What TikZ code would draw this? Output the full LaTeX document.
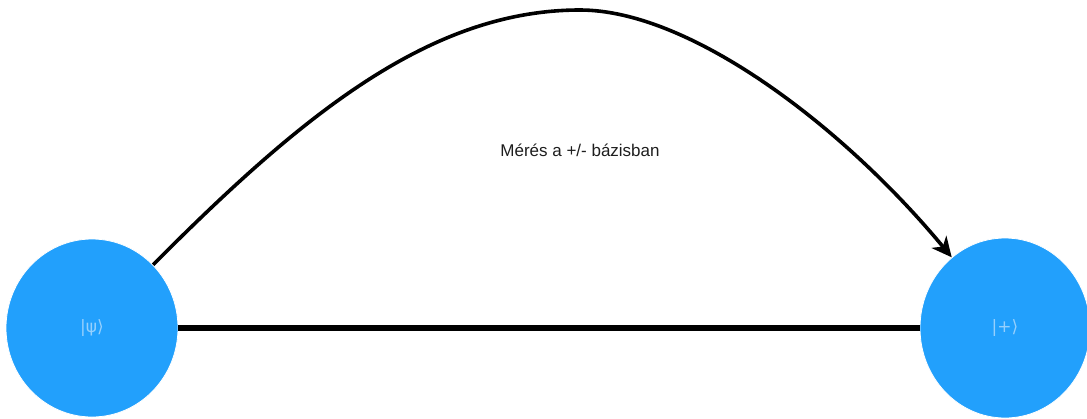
\documentclass[tikz,border=0pt]{standalone}
\usepackage{fontspec}
\setmainfont{Liberation Sans}
\newfontfamily\symfont{DejaVu Sans}
\usetikzlibrary{arrows.meta,shapes.geometric}
\definecolor{nodeblue}{RGB}{34,160,252}
\definecolor{labelblue}{RGB}{150,208,253}
\definecolor{textgray}{RGB}{30,30,30}
\begin{document}
\begin{tikzpicture}[x=1pt,y=-1pt,
  state/.style={ellipse,fill=nodeblue,draw=white,line width=0.8pt,inner sep=0pt,
    font=\symfont\fontsize{17}{20}\selectfont,text=labelblue},
  conn/.style={draw=black,line width=6pt},
  arc/.style={draw=black,line width=3.6pt,-{Stealth[length=20pt,width=19pt,inset=6pt]}}]
\useasboundingbox (0,0) rectangle (1087,418);
\node[state,minimum width=172pt,minimum height=178pt] (psi) at (92,328) {|ψ⟩};
\node[state,minimum width=170pt,minimum height=180pt] (plus) at (1005,328) {|+⟩};
\coordinate (top) at (580,10);
\draw[conn] (psi.east) -- (plus.west);
\draw[arc] (psi.46) .. controls (302,115) and (430,10) .. (top)
  .. controls (690,10) and (843,126) .. (plus.127);
\node[font=\fontsize{17}{20}\selectfont,text=textgray] (lbl) at (580,150) {Mérés a +/- bázisban};
\end{tikzpicture}
\end{document}
